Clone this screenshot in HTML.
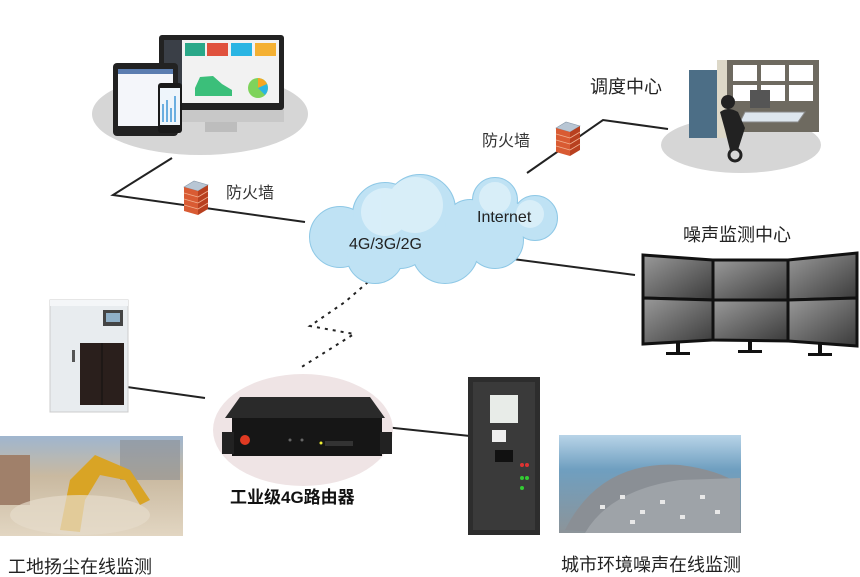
<!DOCTYPE html>
<html><head><meta charset="utf-8"><style>
html,body{margin:0;padding:0;background:#fff;}
svg{display:block}
text{font-family:"Liberation Sans","Noto Sans CJK SC",sans-serif;}
</style></head><body>
<svg width="860" height="577" viewBox="0 0 860 577" xmlns="http://www.w3.org/2000/svg">
<defs>
<linearGradient id="cl" x1="0" y1="0" x2="0" y2="1" gradientUnits="userSpaceOnUse" x1-="0"><stop offset="0" stop-color="#e6f4fb"/><stop offset="1" stop-color="#9fd3ee"/></linearGradient>
<linearGradient id="scr" x1="0" y1="0" x2="1" y2="1"><stop offset="0" stop-color="#9a9a9a"/><stop offset="1" stop-color="#3a3a3a"/></linearGradient>
<linearGradient id="dust" x1="0" y1="0" x2="0" y2="1"><stop offset="0" stop-color="#9fb6cf"/><stop offset="0.4" stop-color="#c9b9a0"/><stop offset="1" stop-color="#e2d6c2"/></linearGradient>
<linearGradient id="city" x1="0" y1="0" x2="0" y2="1"><stop offset="0" stop-color="#b8d4e8"/><stop offset="0.35" stop-color="#6f9fc0"/><stop offset="1" stop-color="#8c9499"/></linearGradient>
<g id="fw"><polygon points="0,6 10,0 24,4 14,10" fill="#b8c6d4" stroke="#8899aa" stroke-width="0.6"/><polygon points="0,6 14,10 14,34 0,30" fill="#d95b33"/><polygon points="14,10 24,4 24,28 14,34" fill="#b8401f"/>
<path d="M0,12 L14,16 M0,18 L14,22 M0,24 L14,28 M14,16 L24,10 M14,22 L24,16 M14,28 L24,22" stroke="#f0b090" stroke-width="0.8"/></g>
<g id="cloudshape">
<circle cx="340" cy="237" r="30"/><circle cx="385" cy="215" r="32"/><circle cx="420" cy="210" r="35"/><circle cx="445" cy="250" r="33"/><circle cx="375" cy="255" r="28"/><circle cx="495" cy="200" r="22"/><circle cx="535" cy="218" r="22"/><circle cx="495" cy="240" r="28"/><circle cx="470" cy="225" r="25"/><circle cx="400" cy="238" r="30"/><circle cx="505" cy="222" r="22"/>
</g>
</defs>

<!-- top-left devices -->
<ellipse cx="200" cy="114" rx="108" ry="41" fill="#d6d6d6"/>
<rect x="159" y="35" width="125" height="75" rx="3" fill="#222"/>
<rect x="164" y="40" width="115" height="63" fill="#f2f2f2"/>
<rect x="164" y="40" width="18" height="63" fill="#3a3f47"/>
<rect x="185" y="43" width="20" height="13" fill="#2aa889"/><rect x="207" y="43" width="21" height="13" fill="#e0523e"/><rect x="231" y="43" width="21" height="13" fill="#2ab5e3"/><rect x="255" y="43" width="21" height="13" fill="#f4b032"/>
<polygon points="195,88 200,77 213,76 222,84 232,90 232,96 195,96" fill="#3bbf7a"/>
<circle cx="258" cy="88" r="10" fill="#7ed35b"/><path d="M258,88 L258,78 A10,10 0 0 1 267,84 Z" fill="#f5a623"/><path d="M258,88 L267,84 A10,10 0 0 1 265,95 Z" fill="#2ab5e3"/>
<rect x="159" y="110" width="125" height="12" fill="#c8c8c8"/>
<rect x="205" y="122" width="32" height="10" fill="#bdbdbd"/>
<rect x="113" y="63" width="65" height="73" rx="4" fill="#222"/>
<rect x="118" y="69" width="55" height="57" fill="#f4f6fa"/>
<rect x="118" y="69" width="55" height="5" fill="#5b7db0"/>
<rect x="158" y="83" width="24" height="50" rx="3" fill="#1a1a1a"/>
<rect x="160" y="88" width="20" height="37" fill="#eef5fb"/>
<rect x="162" y="104" width="2" height="18" fill="#6aaee0"/><rect x="166" y="100" width="2" height="22" fill="#6aaee0"/><rect x="170" y="108" width="2" height="14" fill="#6aaee0"/><rect x="174" y="96" width="2" height="26" fill="#6aaee0"/>

<!-- lines -->
<polyline points="172,158 113,195 305,222" fill="none" stroke="#222" stroke-width="2"/>
<polyline points="527,173 603,120 668,129" fill="none" stroke="#222" stroke-width="2"/>
<line x1="505" y1="258" x2="635" y2="275" stroke="#222" stroke-width="2"/>
<line x1="113" y1="385" x2="205" y2="398" stroke="#222" stroke-width="2"/>
<line x1="365" y1="425" x2="470" y2="436" stroke="#222" stroke-width="2"/>
<polyline points="368,282 345,302 310,326 354,334 300,368" fill="none" stroke="#222" stroke-width="2" stroke-dasharray="3,5"/>

<use href="#fw" x="184" y="181"/>
<use href="#fw" x="556" y="122"/>
<text x="226" y="198" font-size="16" fill="#333">防火墙</text>
<text x="482" y="146" font-size="16" fill="#333">防火墙</text>

<!-- cloud -->
<use href="#cloudshape" fill="#8ec8e6" stroke="#8ec8e6" stroke-width="2"/>
<g fill="#bfe2f4"><use href="#cloudshape"/></g>
<g fill="#dff1fa" opacity="0.8"><circle cx="415" cy="205" r="28"/><circle cx="385" cy="212" r="24"/><circle cx="495" cy="198" r="16"/><circle cx="530" cy="214" r="14"/></g>
<text x="349" y="249" font-size="16" fill="#222">4G/3G/2G</text>
<text x="477" y="222" font-size="16" fill="#222">Internet</text>

<!-- dispatch center -->
<text x="590" y="93" font-size="18" fill="#222">调度中心</text>
<ellipse cx="741" cy="145" rx="80" ry="28" fill="#d6d6d6"/>
<rect x="727" y="60" width="92" height="72" fill="#6e6a60"/>
<g fill="#fff"><rect x="733" y="65" width="24" height="16"/><rect x="761" y="65" width="24" height="16"/><rect x="789" y="65" width="24" height="16"/><rect x="733" y="85" width="24" height="16"/><rect x="761" y="85" width="24" height="16"/><rect x="789" y="85" width="24" height="16"/></g>
<rect x="689" y="70" width="28" height="68" fill="#4c6e86"/>
<rect x="717" y="60" width="10" height="78" fill="#ddd8c8"/>
<polygon points="745,112 805,112 798,122 740,122" fill="#dde6ee" stroke="#888"/>
<rect x="750" y="90" width="20" height="18" fill="#555"/>
<circle cx="728" cy="102" r="7" fill="#222"/>
<path d="M720,112 Q728,106 738,112 L745,128 L738,150 L730,150 L725,130 Z" fill="#222"/>
<circle cx="735" cy="155" r="6" fill="none" stroke="#222" stroke-width="3"/>

<!-- noise monitoring center -->
<text x="683" y="241" font-size="18" fill="#222">噪声监测中心</text>
<g stroke="#111" stroke-width="3">
<polygon points="643,255 713,260 713,300 643,298" fill="url(#scr)"/>
<polygon points="713,260 788,260 788,300 713,300" fill="url(#scr)"/>
<polygon points="788,260 857,253 857,298 788,300" fill="url(#scr)"/>
<polygon points="643,298 713,300 713,340 643,344" fill="url(#scr)"/>
<polygon points="713,300 788,300 788,341 713,340" fill="url(#scr)"/>
<polygon points="788,300 857,298 857,346 788,341" fill="url(#scr)"/>
</g>
<g fill="#111"><rect x="676" y="343" width="4" height="10"/><rect x="666" y="352" width="24" height="3"/><rect x="748" y="341" width="4" height="10"/><rect x="738" y="350" width="24" height="3"/><rect x="818" y="344" width="4" height="10"/><rect x="808" y="353" width="24" height="3"/></g>

<!-- left analyzer cabinet -->
<rect x="50" y="300" width="78" height="112" fill="#e8ecef" stroke="#ccc"/>
<rect x="50" y="300" width="78" height="6" fill="#f4f6f8"/>
<rect x="103" y="310" width="20" height="16" fill="#444"/><rect x="106" y="313" width="14" height="9" fill="#8fb0c8"/>
<rect x="80" y="343" width="44" height="62" fill="#2a1f1c"/>
<line x1="102" y1="343" x2="102" y2="405" stroke="#111"/>
<rect x="72" y="350" width="3" height="12" fill="#555"/>

<!-- construction photo -->
<rect x="0" y="436" width="183" height="100" fill="url(#dust)"/>
<rect x="0" y="455" width="30" height="50" fill="#a0806a"/>
<rect x="120" y="440" width="60" height="40" fill="#8b8e92" opacity="0.6"/>
<path d="M60,530 L70,480 L95,455 L130,470 L150,500 L140,505 L125,480 L100,475 L85,500 L80,532 Z" fill="#d9a425"/>
<ellipse cx="80" cy="515" rx="70" ry="20" fill="#e6dccb" opacity="0.7"/>
<text x="8" y="573" font-size="18" fill="#222">工地扬尘在线监测</text>

<!-- router -->
<ellipse cx="303" cy="430" rx="90" ry="56" fill="#efe4e5"/>
<polygon points="240,397 370,397 385,418 225,418" fill="#2a2a2a"/>
<rect x="232" y="418" width="150" height="38" fill="#161616"/>
<rect x="222" y="432" width="12" height="22" fill="#222"/><rect x="380" y="432" width="12" height="22" fill="#222"/>
<circle cx="245" cy="440" r="5" fill="#e03a22"/>
<circle cx="290" cy="440" r="1.5" fill="#666"/><circle cx="302" cy="440" r="1.5" fill="#666"/>
<circle cx="321" cy="443" r="1.5" fill="#ee3"/><rect x="325" y="441" width="28" height="5" fill="#333"/>
<text x="230" y="503" font-size="17" font-weight="bold" fill="#111">工业级4G路由器</text>

<!-- right cabinet -->
<rect x="468" y="377" width="72" height="158" fill="#2d2d2d"/>
<rect x="473" y="382" width="62" height="148" fill="#3a3a3a"/>
<rect x="490" y="395" width="28" height="28" fill="#e8ece8"/>
<rect x="492" y="430" width="14" height="12" fill="#eee"/>
<rect x="495" y="450" width="18" height="12" fill="#111"/>
<g fill="#d33"><circle cx="522" cy="465" r="2"/><circle cx="527" cy="465" r="2"/></g>
<g fill="#3c3"><circle cx="522" cy="478" r="2"/><circle cx="527" cy="478" r="2"/><circle cx="522" cy="488" r="2"/></g>

<!-- city photo -->
<rect x="559" y="435" width="182" height="98" fill="url(#city)"/>
<path d="M565,530 Q600,460 680,465 Q720,470 740,485 L740,500 Q700,480 660,490 Q620,505 610,533 Z" fill="#8a8f95"/>
<path d="M585,533 Q610,490 680,480 L740,478 L740,533 Z" fill="#9ea3a8"/>
<g fill="#e8e8e8"><rect x="600" y="505" width="5" height="4"/><rect x="620" y="495" width="5" height="4"/><rect x="640" y="510" width="5" height="4"/><rect x="660" y="500" width="5" height="4"/><rect x="680" y="515" width="5" height="4"/><rect x="700" y="495" width="5" height="4"/><rect x="715" y="510" width="5" height="4"/><rect x="630" y="520" width="5" height="4"/></g>
<text x="561" y="571" font-size="18" fill="#222">城市环境噪声在线监测</text>
</svg>
</body></html>
